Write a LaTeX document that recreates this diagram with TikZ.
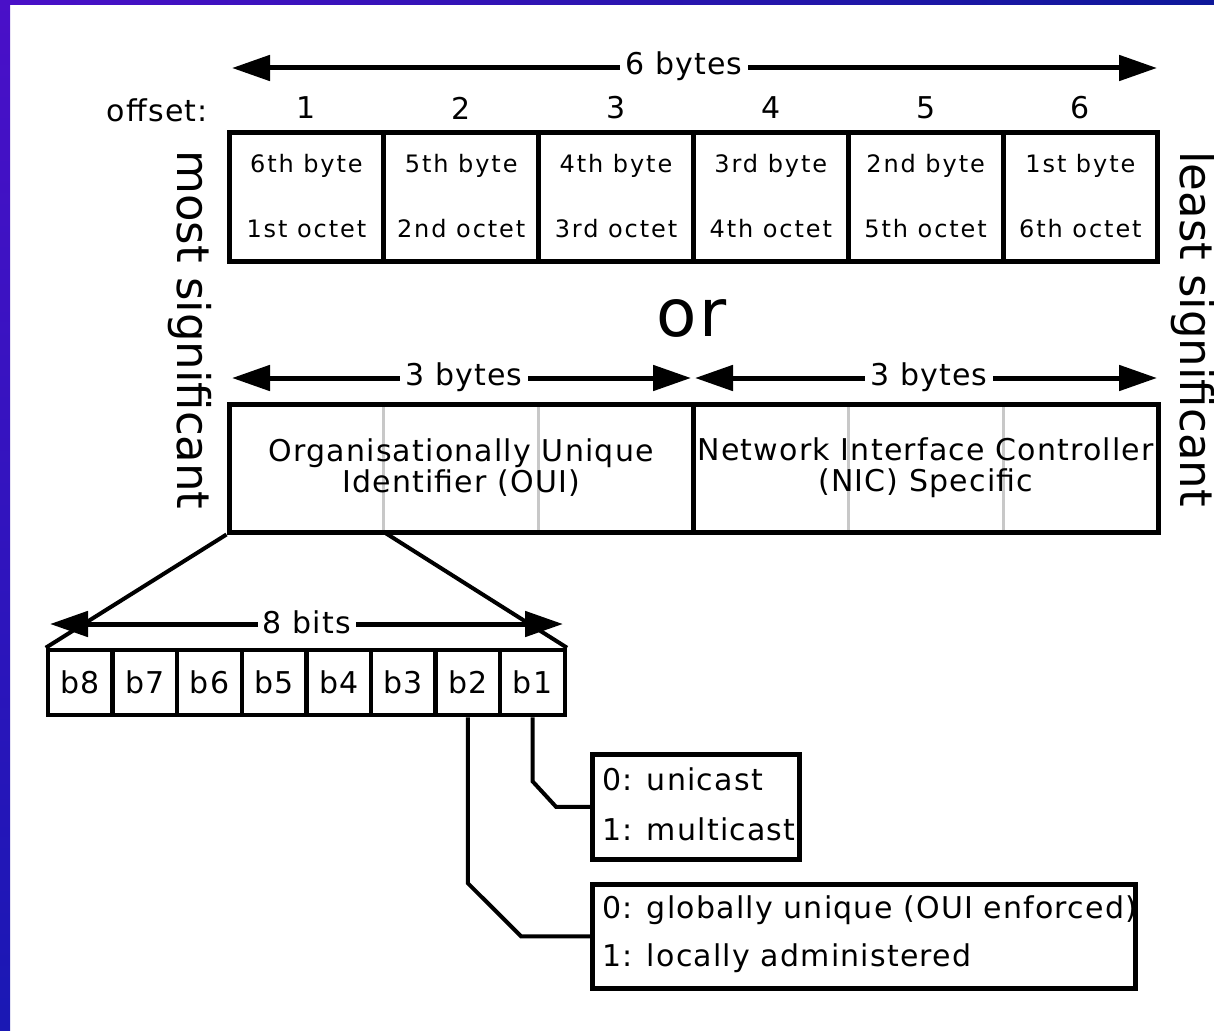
\documentclass[tikz,border=0pt]{standalone}
\usepackage{fontspec}
\setmainfont{DejaVu Sans}[LetterSpace=4]
\newfontfamily\cellfont{DejaVu Sans}[LetterSpace=8]
\newfontfamily\plainfont{DejaVu Sans}
\usetikzlibrary{arrows.meta}
\definecolor{frameTL}{HTML}{4A10C8}
\definecolor{frameBL}{HTML}{1A18B4}
\definecolor{frameTR}{HTML}{0E189A}
\definecolor{gridgray}{HTML}{C8C8C8}

\begin{document}
\begin{tikzpicture}[x=1pt,y=-1pt,
  bigtxt/.style={font=\fontsize{30}{31}\selectfont, inner sep=0pt},
  spanlbl/.style={bigtxt, fill=white, inner xsep=5pt, inner ysep=2pt},
  span/.style={line width=5pt, {Triangle[length=38pt,width=25pt]}-{Triangle[length=38pt,width=25pt]}},
  bytecell/.style={draw, line width=5pt, minimum width=154.8pt, minimum height=129pt,
    inner sep=0pt, align=center, font=\cellfont\fontsize{24}{65}\selectfont},
  halfbox/.style={draw, line width=5pt, minimum width=464.4pt, minimum height=128pt,
    inner sep=0pt, align=center, font=\fontsize{30}{31}\selectfont},
  bitcell/.style={draw, line width=4.5pt, minimum width=64.6pt, minimum height=65pt,
    inner sep=0pt, font=\fontsize{30}{31}\selectfont},
  legbox/.style={draw, line width=4.5pt, inner sep=0pt, anchor=north west},
  legtxt/.style={inner sep=0pt, anchor=west, align=left},
  wire/.style={line width=4pt},
  side/.style={rotate=-90, anchor=base, inner sep=0pt, font=\plainfont\fontsize{45}{45}\selectfont},
]
\useasboundingbox (0,0) rectangle (1214,1030);
\fill[white] (0,0) rectangle (1214,1030);

% frame stripes
\shade[top color=frameTL, bottom color=frameBL] (0,0) rectangle (10,1030);
\shade[left color=frameTL, right color=frameTR] (0,0) rectangle (1214,5);

% ---- six-byte row ----
\coordinate (s6l) at (232,68);
\coordinate (s6r) at (1157,68);
\draw[span] (s6l) -- (s6r);
\node[spanlbl] (lbl6) at (684,66) {6 bytes};

\node[bigtxt, anchor=east] (offs) at (208,110) {offset:};

\node[bytecell] (c1) at (306.4,196.5) {6th byte\\1st octet};
\node[bytecell] (c2) at (461.2,196.5) {5th byte\\2nd octet};
\node[bytecell] (c3) at (616.0,196.5) {4th byte\\3rd octet};
\node[bytecell] (c4) at (770.8,196.5) {3rd byte\\4th octet};
\node[bytecell] (c5) at (925.6,196.5) {2nd byte\\5th octet};
\node[bytecell] (c6) at (1080.4,196.5) {1st byte\\6th octet};

\foreach \i in {1,...,6}{
  \node[bigtxt] (n\i) at (c\i.north |- 0,108) {\i};
}

\node[font=\fontsize{66}{66}\selectfont, inner sep=0pt] (orword) at (692,318) {or};

% ---- three + three bytes ----
\coordinate (s3al) at (232,378);
\coordinate (s3ar) at (691,378);
\coordinate (s3bl) at (695,378);
\coordinate (s3br) at (1157,378);
\draw[span] (s3al) -- (s3ar);
\draw[span] (s3bl) -- (s3br);
\node[spanlbl] (lbl3a) at (464,377) {3 bytes};
\node[spanlbl] (lbl3b) at (929,377) {3 bytes};

\foreach \gx in {383.8,538.6,848.2,1003}{
  \draw[gridgray, line width=3pt] (\gx,406) -- (\gx,530);
}
\node[halfbox] (oui) at (461.2,468) {Organisationally Unique\\Identifier (OUI)};
\node[halfbox] (nic) at (925.8,468) {Network Interface Controller\\(NIC) Specific};

% side captions
\node[side] (msb) at (177,330) {most significant};
\node[side] (lsb) at (1180,329) {least significant};

% ---- first octet expanded into bits ----
\foreach \b [count=\k from 0] in {8,7,6,5,4,3,2,1}{
  \node[bitcell] (b\b) at (80.3+64.6*\k,682.5) {b\b};
}
\coordinate (ouidiv) at (383.8,532);
\draw[wire] (oui.south west) -- (b8.north west);
\draw[wire] (ouidiv) -- (b1.north east);

\coordinate (s8l) at (50,624);
\coordinate (s8r) at (563,624);
\draw[span] (s8l) -- (s8r);
\node[spanlbl] (lbl8) at (307,622) {8 bits};

% ---- meaning of b1 and b2 ----
\node[legbox, minimum width=207pt, minimum height=105pt] (castbox) at (590,752) {};
\node[legtxt, font=\fontsize{30}{50}\selectfont] (casttxt) at (602,804) {0: unicast\\1: multicast};

\node[legbox, minimum width=543pt, minimum height=104pt] (admbox) at (590,882) {};
\node[legtxt, font=\fontsize{30}{48}\selectfont] (admtxt) at (602,934) {0: globally unique (OUI enforced)\\1: locally administered};

\draw[wire] (b1.south) -- ++(0,64) -- ([xshift=-34pt]castbox.west) -- (castbox.west);
\draw[wire] (b2.south) -- ++(0,166) -- ([xshift=-69pt]admbox.west) -- (admbox.west);
\end{tikzpicture}
\end{document}
